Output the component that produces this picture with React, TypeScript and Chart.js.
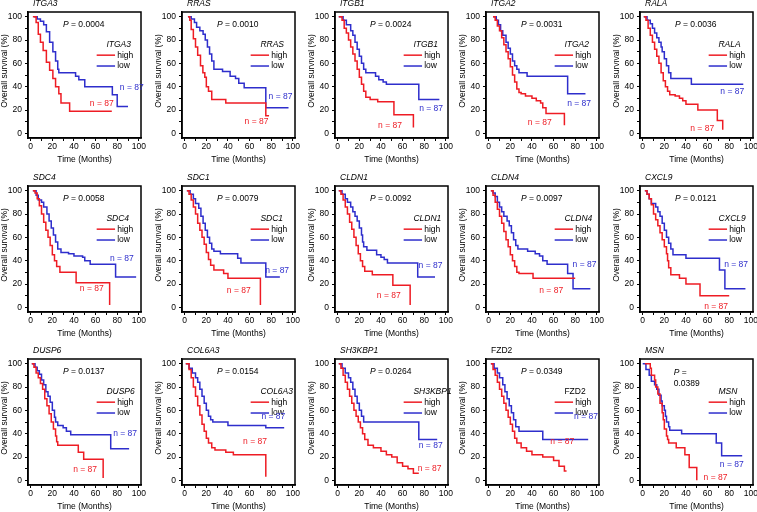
import React, { useEffect, useRef } from "react";
import { Chart, registerables } from "chart.js";
Chart.register(...registerables);

const FONT = '"Liberation Sans", Arial, sans-serif';
const RED = "#ee1c24";
const BLUE = "#2e2ecc";

const genes = ["ITGA3", "RRAS", "ITGB1", "ITGA2", "RALA", "SDC4", "SDC1", "CLDN1", "CLDN4", "CXCL9", "DUSP6", "COL6A3", "SH3KBP1", "FZD2", "MSN"];
const italicGene = [true, true, true, true, true, true, true, true, true, true, true, true, true, false, true];
const pValues = ["0.0004", "0.0010", "0.0024", "0.0031", "0.0036", "0.0058", "0.0079", "0.0092", "0.0097", "0.0121", "0.0137", "0.0154", "0.0264", "0.0349", "0.0389"];
const nHigh = [87, 87, 87, 87, 87, 87, 87, 87, 87, 87, 87, 87, 87, 87, 87];
const nLow = [87, 87, 87, 87, 87, 87, 87, 87, 87, 87, 87, 87, 87, 87, 87];
const xTicks = [0, 10, 20, 30, 40, 50, 60, 70, 80, 90, 100];
const yTicks = [0, 10, 20, 30, 40, 50, 60, 70, 80, 90, 100];

// Kaplan-Meier curves: [time (months), survival (%)]
const ITGA3_high = [[2,100],[5,95],[7,85],[9,78],[11.5,71],[14.5,61],[17.5,54],[20.5,47],[23,40],[26,34],[28,26],[36,19],[75,19]];
const ITGA3_low = [[3,100],[6,98],[9,96],[12,93],[14.5,87],[17.5,78],[20.5,70],[23,62],[25,55],[26,52],[41.5,49],[44.5,46],[50,40],[75.5,33],[80,23],[90,23]];
const RRAS_high = [[3,100],[4.7,97],[6,89],[8,81],[10,74],[12,67],[14.6,58],[16.8,52],[18.6,48],[20,40],[22,36],[25,29],[38,26],[75,15],[78,15]];
const RRAS_low = [[3,100],[6,98],[9,95],[11,91],[14,88],[17,85],[19,80],[21,74],[23,68],[25,62],[27,55],[35,53],[42,49],[47,47],[50,43],[55,39],[75,22],[96,22]];
const ITGB1_high = [[1,100],[4,97],[6,90],[8,86],[10,80],[12,74],[14,68],[16,62],[18,55],[20,48],[22,42],[24,36],[26,31],[30,29],[37,27],[52,16],[70,5]];
const ITGB1_low = [[1,100],[5,97],[8,93],[12,88],[14,84],[16,78],[18,72],[20,66],[22,60],[24,55],[26,52],[35,49],[38,46],[42,44],[45,42],[75,29],[94,29]];
const ITGA2_high = [[4,100],[6,97],[8,92],[10,88],[12,82],[14,76],[16,70],[18,64],[20,57],[22,50],[24,44],[26,38],[28,35],[30,34],[34,32],[40,30],[44,28],[48,26],[50,22],[53,17],[70,7]];
const ITGA2_low = [[4,100],[7,97],[9,93],[11,88],[13,84],[16,78],[18,73],[20,68],[22,62],[24,58],[26,55],[28,52],[35.5,49],[73,34],[89.5,34]];
const RALA_high = [[1,100],[3,97],[5,90],[7,84],[9,78],[11,72],[13,66],[15,60],[17,52],[19,45],[21,40],[23,36],[25,33],[30,32],[34,30],[37,28],[40,25],[51,20],[69,11],[74,3]];
const RALA_low = [[1,100],[4,97],[7,94],[9,90],[11,86],[13,82],[15,78],[17,74],[18,70],[20,64],[22,58],[24,52],[26,47],[45,42],[93,42]];
const SDC4_high = [[2,100],[4,98],[6,93],[8,87],[10,80],[12,73],[14,66],[16,60],[18,53],[20,45],[22,40],[24,35],[27,30],[42,21],[73,2]];
const SDC4_low = [[2,100],[5,96],[7,92],[10,90],[12,86],[15,80],[17,74],[19,68],[21,62],[23,56],[25,50],[28,47],[35,46],[40,44],[48,43],[50,40],[55,37],[78.5,26],[97.5,26]];
const SDC1_high = [[2,100],[4,97],[6,92],[8,86],[10,80],[12,72],[14,66],[16,60],[18,54],[20,47],[22,41],[24,36],[27,32],[36,29],[40,25],[70,2]];
const SDC1_low = [[2,100],[5,97],[8,93],[10,89],[13,85],[15,78],[17,72],[19,66],[21,60],[23,55],[25,50],[27,48],[33,46],[49,42],[52,38],[75,26],[88,26]];
const CLDN1_high = [[1,100],[3,97],[5,92],[7,86],[9,80],[11,73],[13,67],[15,60],[17,53],[19,46],[21,40],[23,35],[25,31],[32,28],[51,19],[67,2]];
const CLDN1_low = [[1,100],[4,97],[7,93],[9,90],[12,86],[14,82],[16,78],[18,74],[20,68],[22,62],[23,56],[24,52],[27,49],[36,45],[40,43],[43,41],[46,38],[74,26],[90,26]];
const CLDN4_high = [[2,100],[4,96],[6,90],[8,84],[10,78],[12,72],[14,65],[16,58],[18,52],[20,45],[22,40],[24,35],[26,30],[28,29],[41,25],[80,25]];
const CLDN4_low = [[2,100],[4,98],[6,95],[8,90],[10,86],[12,82],[14,78],[17,74],[19,70],[21,64],[23,58],[25,53],[27,50],[36,48],[43,46],[47,44],[50,40],[54,37],[73,29],[78,16],[94,16]];
const CXCL9_high = [[2,100],[4,97],[6,93],[8,88],[10,80],[12,75],[14,70],[16,64],[18,58],[20,52],[22,46],[23,40],[24,34],[26,28],[34,25],[40,20],[53,10],[80,10]];
const CXCL9_low = [[2,100],[4,97],[6,93],[8,89],[12,86],[14,82],[16,78],[18,72],[20,66],[22,60],[24,55],[26,50],[28,45],[40,42],[71,32],[76,16],[95,16]];
const DUSP6_high = [[1,100],[3,97],[5,92],[7,88],[9,83],[11,78],[13,70],[15,64],[17,57],[19,50],[21,44],[23,38],[24,33],[25,30],[44,24],[49,18],[67,2]];
const DUSP6_low = [[1,100],[4,97],[6,94],[8,91],[10,86],[12,82],[14,76],[16,72],[18,67],[20,60],[22,54],[23,50],[25,47],[30,45],[33,42],[37,39],[74,27],[91,27]];
const COL6A3_high = [[1,100],[4,95],[6,88],[8,80],[10,72],[12,64],[14,56],[16,48],[18,42],[20,36],[22,32],[25,28],[28,26],[38,24],[45,22],[75,3]];
const COL6A3_low = [[1,100],[4,96],[7,92],[10,88],[12,84],[14,78],[16,72],[18,66],[20,60],[22,55],[24,52],[26,50],[40,47],[75,45],[92,45]];
const SH3KBP1_high = [[1,100],[3,96],[5,90],[7,84],[9,78],[11,72],[13,66],[15,60],[17,55],[19,50],[21,45],[23,40],[25,35],[28,30],[33,28],[40,25],[45,22],[50,20],[55,15],[60,12],[65,10],[70,6],[75,6]];
const SH3KBP1_low = [[1,100],[4,96],[7,92],[10,88],[12,84],[14,78],[16,72],[18,66],[20,60],[22,55],[24,50],[75,35],[92,35]];
const FZD2_high = [[2,100],[4,95],[6,90],[8,84],[10,78],[12,72],[14,66],[16,60],[18,54],[20,48],[22,42],[24,36],[26,32],[30,28],[35,25],[40,22],[50,20],[60,17],[65,12],[70,8],[72,8]];
const FZD2_low = [[2,100],[5,96],[8,92],[10,88],[13,82],[15,76],[17,70],[19,64],[21,58],[23,52],[25,46],[28,42],[50,35],[92,35]];
const MSN_high = [[2,100],[7,96],[8,90],[11,86],[12,80],[14,74],[16,66],[18,58],[19,52],[20,44],[22,38],[23,35],[24,32],[31,28],[39,22],[43,11],[50,0]];
const MSN_low = [[0,100],[3,95],[6,90],[8,85],[11,82],[13,78],[15,73],[17,68],[18,64],[20,60],[21,55],[22,50],[24,46],[25,43],[36,40],[68,32],[73,21],[92,21]];

const highCurves = [ITGA3_high, RRAS_high, ITGB1_high, ITGA2_high, RALA_high, SDC4_high, SDC1_high, CLDN1_high, CLDN4_high, CXCL9_high, DUSP6_high, COL6A3_high, SH3KBP1_high, FZD2_high, MSN_high];
const lowCurves = [ITGA3_low, RRAS_low, ITGB1_low, ITGA2_low, RALA_low, SDC4_low, SDC1_low, CLDN1_low, CLDN4_low, CXCL9_low, DUSP6_low, COL6A3_low, SH3KBP1_low, FZD2_low, MSN_low];

// layout (label anchors in data units)
const nLowPos = [[93.5,39.5],[88.6,31.5],[86.4,21.5],[83.6,25.8],[82.8,35.7],[84.3,41.5],[85.5,31.4],[85.8,35.7],[88.6,36.6],[86.4,36.3],[87.3,40.3],[82,55],[86,30],[90,55],[82.4,13.5]];
const nHighPos = [[65.7,25.8],[66.4,10],[48.4,6.4],[47.2,9.2],[55,4.4],[56.5,15.6],[50,14.1],[47.2,9.8],[57.8,14.7],[67.9,0.3],[50.3,9.2],[65,33],[85,10],[68,33],[67.3,2]];
const boxLeft = [28, 182, 335, 486, 640];
const boxTop = [12, 186, 359];
const PAD_T = 22;
const PAD_L = 27;
const AREA_W = 113, AREA_H = 126;
const CW = 150, CH = PAD_T + AREA_H + 34;

function Panel({ idx }: { idx: number }) {
  const ref = useRef<HTMLCanvasElement | null>(null);
  useEffect(() => {
    const canvas = ref.current!;
    const gene = genes[idx];
    const decor = {
      id: "decor" + idx,
      afterDraw(chart: any) {
        const ctx = chart.ctx;
        const a = chart.chartArea;
        const xs = chart.scales.x, ys = chart.scales.y;
        const px = (v: number) => xs.getPixelForValue(v);
        const py = (v: number) => ys.getPixelForValue(v);
        ctx.save();
        ctx.strokeStyle = "#000";
        ctx.lineWidth = 1.5;
        ctx.strokeRect(a.left, a.top, a.right - a.left, a.bottom - a.top);
        ctx.fillStyle = "#000";
        const normal = `8.5px ${FONT}`;
        const ital = `italic 8.5px ${FONT}`;
        const gf = italicGene[idx] ? ital : normal;
        // title
        ctx.font = gf;
        ctx.textAlign = "left";
        ctx.textBaseline = "alphabetic";
        ctx.fillText(gene, a.left + 5, a.top - 6.5);
        ctx.textBaseline = "middle";
        // axis titles
        ctx.font = normal;
        ctx.textAlign = "center";
        ctx.fillText("Time (Months)", (a.left + a.right) / 2, a.bottom + 22);
        ctx.save();
        ctx.translate(a.left - 23, (a.top + a.bottom) / 2 - 4);
        ctx.rotate(-Math.PI / 2);
        ctx.fillText("Overall survival (%)", 0, 0);
        ctx.restore();
        // P value
        const pv = pValues[idx];
        if (idx === 14) {
          ctx.textAlign = "left";
          ctx.font = ital;
          ctx.fillText("P", px(28.7), py(92));
          const w = ctx.measureText("P").width;
          ctx.font = normal;
          ctx.fillText(" =", px(28.7) + w, py(92));
          ctx.fillText(pv, px(28.7), py(82.6));
        } else {
          ctx.font = ital;
          const w1 = ctx.measureText("P").width;
          ctx.font = normal;
          const rest = " = " + pv;
          const w2 = ctx.measureText(rest).width;
          const x0 = px(49) - (w1 + w2) / 2;
          ctx.textAlign = "left";
          ctx.font = ital;
          ctx.fillText("P", x0, py(93));
          ctx.font = normal;
          ctx.fillText(rest, x0 + w1, py(93));
        }
        // legend
        ctx.textAlign = "left";
        ctx.font = gf;
        ctx.fillText(gene, px(70), py(76));
        ctx.font = normal;
        ctx.lineWidth = 1.5;
        ctx.strokeStyle = RED;
        ctx.beginPath(); ctx.moveTo(px(61), py(67)); ctx.lineTo(px(78), py(67)); ctx.stroke();
        ctx.strokeStyle = BLUE;
        ctx.beginPath(); ctx.moveTo(px(61), py(57.7)); ctx.lineTo(px(78), py(57.7)); ctx.stroke();
        ctx.fillText("high", px(80), py(67));
        ctx.fillText("low", px(80), py(57.7));
        // n labels
        ctx.textAlign = "center";
        ctx.fillStyle = BLUE;
        ctx.fillText("n = " + nLow[idx], px(nLowPos[idx][0]), py(nLowPos[idx][1]));
        ctx.fillStyle = RED;
        ctx.fillText("n = " + nHigh[idx], px(nHighPos[idx][0]), py(nHighPos[idx][1]));
        ctx.restore();
      },
    };
    const tickFont = { family: FONT, size: 8.5 };
    const chart = new Chart(canvas, {
      type: "line",
      data: {
        datasets: [
          { data: highCurves[idx].map(([x, y]) => ({ x, y })), borderColor: RED, borderWidth: 1.5, stepped: "before", pointRadius: 0, fill: false },
          { data: lowCurves[idx].map(([x, y]) => ({ x, y })), borderColor: BLUE, borderWidth: 1.5, stepped: "before", pointRadius: 0, fill: false },
        ],
      },
      options: {
        animation: false,
        responsive: false,
        devicePixelRatio: 1,
        layout: { padding: { top: PAD_T, right: CW - PAD_L - AREA_W, left: 0, bottom: 0 } },
        plugins: { legend: { display: false }, tooltip: { enabled: false }, title: { display: false } },
        scales: {
          x: {
            type: "linear",
            min: -2.5,
            max: 102,
            afterBuildTicks: (s: any) => { s.ticks = xTicks.map((v) => ({ value: v })); },
            afterFit: (s: any) => { s.height = CH - PAD_T - AREA_H; s.paddingLeft = 0; s.paddingRight = 0; },
            grid: { drawOnChartArea: false, drawTicks: true, tickLength: 3, color: "#000", tickWidth: 1 },
            border: { display: true, color: "#000", width: 1.5 },
            ticks: { font: tickFont, color: "#000", padding: 1, maxRotation: 0, autoSkip: false, callback: (v: any) => (Number(v) % 20 === 0 ? String(v) : "") },
          },
          y: {
            type: "linear",
            min: -4,
            max: 104,
            afterBuildTicks: (s: any) => { s.ticks = yTicks.map((v) => ({ value: v })); },
            afterFit: (s: any) => { s.width = PAD_L; s.paddingTop = 0; s.paddingBottom = 0; },
            grid: { drawOnChartArea: false, drawTicks: true, tickLength: 3, color: "#000", tickWidth: 1 },
            border: { display: true, color: "#000", width: 1.5 },
            ticks: { font: tickFont, color: "#000", padding: 3, autoSkip: false, callback: (v: any) => (Number(v) % 20 === 0 ? String(v) : "") },
          },
        },
      },
      plugins: [decor],
    } as any);
    return () => chart.destroy();
  }, [idx]);
  const col = idx % 5, row = Math.floor(idx / 5);
  return (
    <canvas
      ref={ref}
      width={CW}
      height={CH}
      style={{ position: "absolute", left: boxLeft[col] - PAD_L, top: boxTop[row] - PAD_T, width: CW, height: CH }}
    />
  );
}

export default function App() {
  return (
    <div style={{ position: "absolute", left: 0, top: 0, width: 757, height: 512, overflow: "hidden", background: "#fff" }}>
      {genes.map((g, i) => (
        <Panel key={g} idx={i} />
      ))}
    </div>
  );
}
